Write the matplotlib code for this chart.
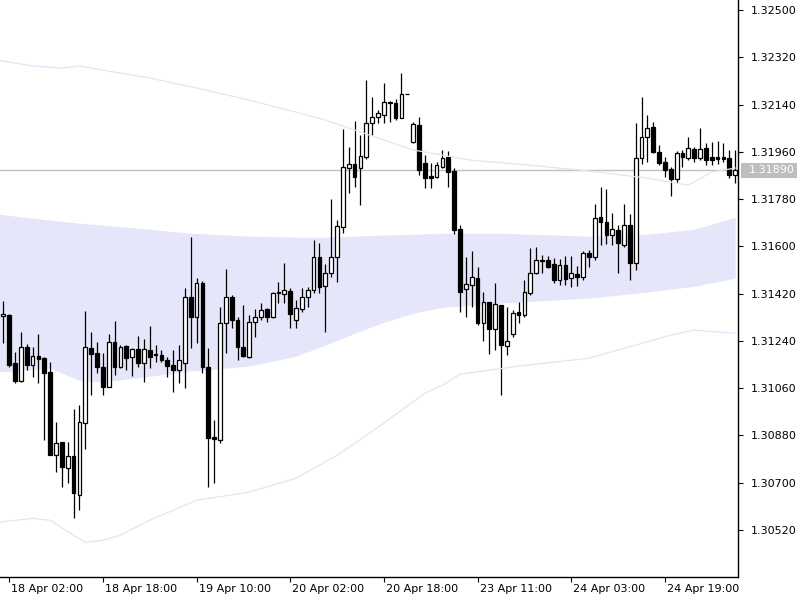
import matplotlib
matplotlib.use('Agg')
import matplotlib.pyplot as plt
import numpy as np
from matplotlib.transforms import ScaledTranslation, blended_transform_factory
from matplotlib.patches import Rectangle

# ---- OHLC data (H1 bars) ----
opens = [1.31334, 1.31338, 1.31155, 1.31086, 1.31216, 1.31147, 1.31182, 1.31174, 1.31121, 1.30804,
         1.30854, 1.30755, 1.30801, 1.30652, 1.30926, 1.31212, 1.31193, 1.31140, 1.31064, 1.31235,
         1.31140, 1.31220, 1.31178, 1.31208, 1.31155, 1.31205, 1.31185, 1.31185, 1.31166, 1.31147,
         1.31128, 1.31155, 1.31406, 1.31330, 1.31460, 1.31140, 1.30873, 1.30862, 1.31307, 1.31406,
         1.31319, 1.31216, 1.31178, 1.31311, 1.31330, 1.31361, 1.31330, 1.31422, 1.31418, 1.31429,
         1.31319, 1.31361, 1.31406, 1.31433, 1.31559, 1.31448, 1.31498, 1.31559, 1.31673, 1.31898,
         1.31913, 1.31898, 1.31940, 1.32069, 1.32092, 1.32100, 1.32146, 1.32146, 1.32088, 1.32180,
         1.31997, 1.32062, 1.31917, 1.31867, 1.31864, 1.31902, 1.31940, 1.31887, 1.31665, 1.31437,
         1.31452, 1.31479, 1.31307, 1.31387, 1.31285, 1.31376, 1.31220, 1.31265, 1.31349, 1.31338,
         1.31422, 1.31498, 1.31544, 1.31547, 1.31532, 1.31471, 1.31528, 1.31479, 1.31494, 1.31483,
         1.31574, 1.31559, 1.31711, 1.31692, 1.31643, 1.31662, 1.31605, 1.31681, 1.31536, 1.31936,
         1.32016, 1.32054, 1.31959, 1.31921, 1.31894, 1.31856, 1.31955, 1.31936, 1.31970, 1.31936,
         1.31974, 1.31940, 1.31940, 1.31940, 1.31936, 1.31871]
highs = [1.31391, 1.31342, 1.31197, 1.31273, 1.31227, 1.31216, 1.31265, 1.31178, 1.31159, 1.30930,
         1.30854, 1.30854, 1.30980, 1.30995, 1.31353, 1.31273, 1.31235, 1.31193, 1.31265, 1.31315,
         1.31224, 1.31224, 1.31212, 1.31258, 1.31246, 1.31296, 1.31224, 1.31205, 1.31178, 1.31205,
         1.31224, 1.31441, 1.31635, 1.31479, 1.31467, 1.31212, 1.30938, 1.31368, 1.31513, 1.31414,
         1.31330, 1.31376, 1.31338, 1.31361, 1.31384, 1.31365, 1.31426, 1.31464, 1.31536, 1.31441,
         1.31395, 1.31441, 1.31445, 1.31624, 1.31612, 1.31532, 1.31780, 1.31700, 1.32047, 1.31978,
         1.32077, 1.32024, 1.32233, 1.32168, 1.32119, 1.32222, 1.32153, 1.32161, 1.32260, 1.32180,
         1.32073, 1.32092, 1.31947, 1.31917, 1.31921, 1.31967, 1.31963, 1.31898, 1.31681, 1.31559,
         1.31582, 1.31521, 1.31426, 1.31387, 1.31460, 1.31376, 1.31368, 1.31357, 1.31387, 1.31471,
         1.31593, 1.31597, 1.31566, 1.31563, 1.31555, 1.31551, 1.31563, 1.31563, 1.31525, 1.31582,
         1.31586, 1.31761, 1.31826, 1.31818, 1.31727, 1.31681, 1.31761, 1.31723, 1.32069, 1.32168,
         1.32100, 1.32073, 1.31986, 1.31940, 1.31902, 1.31963, 1.31967, 1.32016, 1.31978, 1.32050,
         1.31993, 1.31997, 1.32001, 1.31993, 1.31967, 1.31967]
lows = [1.31231, 1.31140, 1.31079, 1.31083, 1.31128, 1.31102, 1.31079, 1.30862, 1.30804, 1.30740,
        1.30683, 1.30698, 1.30564, 1.30595, 1.30827, 1.31033, 1.31117, 1.31033, 1.31064, 1.31109,
        1.31136, 1.31128, 1.31105, 1.31140, 1.31083, 1.31136, 1.31159, 1.31159, 1.31102, 1.31045,
        1.31079, 1.31060, 1.31212, 1.31231, 1.31117, 1.30683, 1.30698, 1.30850, 1.31193, 1.31288,
        1.31166, 1.31178, 1.31174, 1.31254, 1.31319, 1.31311, 1.31326, 1.31384, 1.31384, 1.31288,
        1.31288, 1.31349, 1.31368, 1.31422, 1.31422, 1.31273, 1.31483, 1.31464, 1.31650, 1.31803,
        1.31826, 1.31757, 1.31932, 1.32024, 1.32069, 1.32069, 1.32073, 1.32081, 1.32088, 1.32180,
        1.31993, 1.31871, 1.31822, 1.31822, 1.31860, 1.31898, 1.31826, 1.31646, 1.31349, 1.31330,
        1.31368, 1.31300, 1.31239, 1.31189, 1.31205, 1.31033, 1.31185, 1.31254, 1.31307, 1.31330,
        1.31414, 1.31494, 1.31498, 1.31517, 1.31460, 1.31452, 1.31452, 1.31445, 1.31448, 1.31471,
        1.31521, 1.31547, 1.31605, 1.31608, 1.31605, 1.31498, 1.31597, 1.31471, 1.31509, 1.31913,
        1.31921, 1.31955, 1.31909, 1.31864, 1.31791, 1.31841, 1.31902, 1.31928, 1.31921, 1.31928,
        1.31909, 1.31909, 1.31913, 1.31921, 1.31860, 1.31841]
closes = [1.31342, 1.31147, 1.31086, 1.31216, 1.31147, 1.31182, 1.31170, 1.31117, 1.30804, 1.30850,
          1.30759, 1.30801, 1.30660, 1.30930, 1.31216, 1.31189, 1.31140, 1.31064, 1.31235, 1.31140,
          1.31216, 1.31174, 1.31208, 1.31155, 1.31208, 1.31178, 1.31189, 1.31166, 1.31144, 1.31128,
          1.31166, 1.31406, 1.31330, 1.31460, 1.31140, 1.30869, 1.30865, 1.31307, 1.31406, 1.31319,
          1.31216, 1.31182, 1.31311, 1.31330, 1.31357, 1.31330, 1.31422, 1.31426, 1.31433, 1.31342,
          1.31365, 1.31406, 1.31433, 1.31559, 1.31445, 1.31498, 1.31559, 1.31677, 1.31902, 1.31913,
          1.31864, 1.31944, 1.32069, 1.32092, 1.32108, 1.32149, 1.32149, 1.32088, 1.32180, 1.32180,
          1.32066, 1.31890, 1.31860, 1.31860, 1.31909, 1.31936, 1.31883, 1.31662, 1.31426, 1.31456,
          1.31483, 1.31307, 1.31387, 1.31285, 1.31380, 1.31224, 1.31239, 1.31345, 1.31338, 1.31426,
          1.31498, 1.31547, 1.31547, 1.31521, 1.31471, 1.31528, 1.31475, 1.31498, 1.31483, 1.31574,
          1.31559, 1.31707, 1.31692, 1.31643, 1.31665, 1.31612, 1.31681, 1.31536, 1.31936, 1.32016,
          1.32050, 1.31959, 1.31917, 1.31890, 1.31856, 1.31955, 1.31940, 1.31974, 1.31936, 1.31970,
          1.31928, 1.31928, 1.31932, 1.31932, 1.31871, 1.31890]

# ---- indicator bands (sampled at bar indices) ----
band_x = [-1, 8, 13, 17, 25, 32, 42, 50, 55, 60, 65, 70, 75, 85, 100, 110, 118, 125]
band_top = [1.31723, 1.31700, 1.31688, 1.31681, 1.31665, 1.31650, 1.31639, 1.31635, 1.31635, 1.31639,
            1.31643, 1.31646, 1.31650, 1.31650, 1.31639, 1.31646, 1.31665, 1.31711]
band_bottom = [1.31121, 1.31136, 1.31090, 1.31083, 1.31105, 1.31125, 1.31144, 1.31182, 1.31224, 1.31269,
               1.31311, 1.31345, 1.31368, 1.31384, 1.31403, 1.31426, 1.31448, 1.31479]

upper_x = [-1, 5, 10, 13, 17, 25, 33, 42, 50, 55, 60, 65, 70, 75, 80, 90, 100, 110, 117, 121, 125]
upper_line = [1.32309, 1.32287, 1.32279, 1.32287, 1.32271, 1.32241, 1.32203, 1.32157, 1.32111, 1.32081,
              1.32043, 1.32005, 1.31967, 1.31947, 1.31928, 1.31909, 1.31887, 1.31860, 1.31833, 1.31883,
              1.31898]
lower_x = [-1, 5, 8, 12, 14, 17, 20, 25, 33, 42, 50, 57, 64, 68, 72, 75, 78, 88, 100, 108, 114, 118, 125]
lower_line = [1.30549, 1.30564, 1.30557, 1.30500, 1.30473, 1.30481, 1.30500, 1.30557, 1.30633, 1.30664,
              1.30717, 1.30804, 1.30911, 1.30976, 1.31041, 1.31071, 1.31113, 1.31144, 1.31174, 1.31224,
              1.31262, 1.31281, 1.31269]

current_price = 1.31890
y_ticks = [1.30520, 1.30700, 1.30880, 1.31060, 1.31240, 1.31420, 1.31600, 1.31780, 1.31960,
           1.32140, 1.32320, 1.32500]
x_tick_bars = [1, 17, 33, 49, 65, 81, 97, 113]
x_tick_labels = ['18 Apr 02:00', '18 Apr 18:00', '19 Apr 10:00', '20 Apr 02:00',
                 '20 Apr 18:00', '23 Apr 11:00', '24 Apr 03:00', '24 Apr 19:00']

# ---- figure ----
fig = plt.figure(figsize=(8, 6), dpi=100)
ax = fig.add_axes([0, 23 / 600, 738 / 800, 577 / 600])
ax.set_facecolor('white')

o = np.array(opens); h = np.array(highs); l = np.array(lows); c = np.array(closes)
x = np.arange(len(o))

ax.fill_between(band_x, band_bottom, band_top, color='#E6E6FA', lw=0, zorder=1)
ax.axhline(current_price, color='#C0C0C0', lw=1.0, zorder=2)

ax.vlines(x, l, h, color='black', lw=0.9, zorder=3)
up = c >= o
bottoms = np.minimum(o, c)
heights = np.abs(c - o)
ax.bar(x[up], heights[up], bottom=bottoms[up], width=0.64, facecolor='white',
       edgecolor='black', lw=0.9, zorder=4)
ax.bar(x[~up], heights[~up], bottom=bottoms[~up], width=0.64, facecolor='black',
       edgecolor='black', lw=0.9, zorder=4)

ax.plot(upper_x, upper_line, color='#E4E4F8', lw=0.9, zorder=5)
ax.plot(lower_x, lower_line, color='#E4E4F8', lw=0.9, zorder=5)

ax.set_xlim(-0.564, 125.48)
ax.set_ylim(1.303409, 1.325381)

for s in ['left', 'top']:
    ax.spines[s].set_visible(False)
for s in ['right', 'bottom']:
    ax.spines[s].set_color('black')
    ax.spines[s].set_linewidth(1.0)

ax.yaxis.tick_right()
ax.set_yticks(y_ticks)
ax.set_yticklabels(['%.5f' % v for v in y_ticks])
ax.tick_params(axis='y', direction='out', length=3.5, width=0.8, pad=5.5, labelsize=8, colors='black')

ax.set_xticks(x_tick_bars)
ax.set_xticklabels(x_tick_labels, ha='left')
ax.tick_params(axis='x', direction='out', length=3.5, width=0.8, pad=1.5, labelsize=8, colors='black')
off = ScaledTranslation(2 / 100, 0, fig.dpi_scale_trans)
for lab in ax.get_xticklabels():
    lab.set_transform(lab.get_transform() + off)

# current price label on the axis
bt = blended_transform_factory(ax.transAxes, ax.transData)
ax.add_patch(Rectangle((1.0 + 3 / 738, current_price - 0.00029), 56 / 738, 0.00058,
                       transform=bt, facecolor='#BEBEBE', edgecolor='none', clip_on=False, zorder=6))
ax.text(1.0 + 11 / 738, current_price, '%.5f' % current_price, transform=bt, ha='left', va='center',
        color='white', fontsize=8, zorder=7, clip_on=False)

fig.savefig('out.png', dpi=100)
